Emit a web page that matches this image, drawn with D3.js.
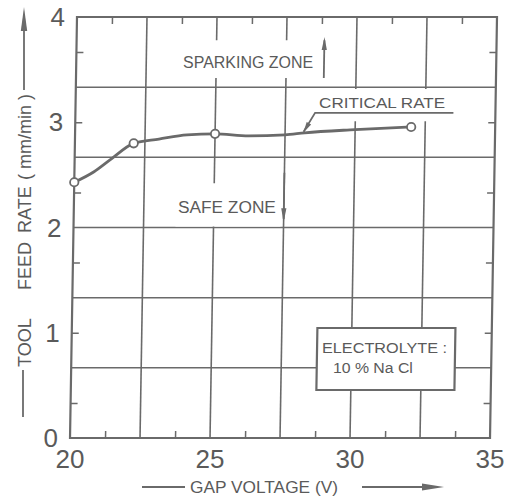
<!DOCTYPE html>
<html>
<head>
<meta charset="utf-8">
<script src="https://cdn.jsdelivr.net/npm/d3@7"></script>
<style>
  body { margin: 0; background: #fff; }
  svg { display: block; }
  text { font-family: "Liberation Sans", Arial, sans-serif; fill: #5a5a5a; }
</style>
</head>
<body>
<div id="chart"></div>
<script>
// measured points (open circles)
const voltage = [20, 22.1, 25, 32];
const feedRate = [2.43, 2.8, 2.89, 2.955];

// hand drawn critical-rate curve
const curveVoltage = [20, 20.7, 21.3, 22.1, 23, 24, 25, 26.2, 27.5, 28.2, 30, 32];
const curveRate = [2.43, 2.53, 2.65, 2.8, 2.84, 2.88, 2.89, 2.87, 2.88, 2.9, 2.93, 2.955];

const xTickLabels = [20, 25, 30, 35];
const yTickLabels = [0, 1, 2, 3, 4];
const xGrid = [22.5, 25, 27.5, 30, 32.5];
const yGrid = [0.667, 1.333, 2, 2.667, 3.333];
const xMinorTicks = [21.25, 23.75, 26.25, 28.75, 31.25, 33.75];
const yMinorTicks = [0.333, 1, 1.667, 2.333, 3, 3.667];

const width = 505, height = 498;
const margin = { top: 17, left: 77 };
const innerWidth = 420, innerHeight = 421;
const ink = "#6a6a6a";
const skewDeg = -0.95;
const lean = Math.tan(skewDeg * Math.PI / 180);

const xScale = d3.scaleLinear().domain([20, 35]).range([0, innerWidth]);
const yScale = d3.scaleLinear().domain([0, 4]).range([innerHeight, 0]);

const svg = d3.select("#chart")
  .append("svg")
    .attr("width", width)
    .attr("height", height);

// the scanned figure leans a little, so the plot frame is skewed
const innerChart = svg
  .append("g")
    .attr("transform", `translate(${margin.left}, ${margin.top}) skewX(${skewDeg})`);

// texts stay unskewed, only shifted with the lean
const textLayer = svg
  .append("g")
    .attr("transform", `translate(${margin.left}, ${margin.top})`);
const px = (vx, vy) => xScale(vx) + lean * yScale(vy);

// grid
innerChart.append("g")
  .selectAll("line")
  .data(xGrid)
  .join("line")
    .attr("x1", d => xScale(d)).attr("x2", d => xScale(d))
    .attr("y1", 0).attr("y2", innerHeight)
    .attr("stroke", ink).attr("stroke-width", 1.6);
innerChart.append("g")
  .selectAll("line")
  .data(yGrid)
  .join("line")
    .attr("x1", 0).attr("x2", innerWidth)
    .attr("y1", d => yScale(d)).attr("y2", d => yScale(d))
    .attr("stroke", ink).attr("stroke-width", 1.6);

// small inward ticks on all four sides
const minorAxes = [
  { axis: d3.axisTop(xScale).tickValues(xMinorTicks), t: "translate(0,0)" },
  { axis: d3.axisBottom(xScale).tickValues(xMinorTicks), t: `translate(0,${innerHeight})` },
  { axis: d3.axisLeft(yScale).tickValues(yMinorTicks), t: "translate(0,0)" },
  { axis: d3.axisRight(yScale).tickValues(yMinorTicks), t: `translate(${innerWidth},0)` }
];
minorAxes.forEach(m => {
  const g = innerChart.append("g")
      .attr("transform", m.t)
      .call(m.axis.tickSize(-7).tickFormat(""));
  g.select(".domain").remove();
  g.selectAll("text").remove();
  g.selectAll("line").attr("stroke", ink).attr("stroke-width", 1.5);
});

// tick labels
textLayer.append("g")
  .selectAll("text")
  .data(xTickLabels)
  .join("text")
    .attr("x", d => px(d, 0))
    .attr("y", innerHeight + 30)
    .attr("text-anchor", "middle")
    .style("font-size", "26px")
    .text(d => d);
textLayer.append("g")
  .selectAll("text")
  .data(yTickLabels)
  .join("text")
    .attr("x", d => px(20, d) - 12)
    .attr("y", d => yScale(d))
    .attr("dy", "0.35em")
    .attr("text-anchor", "end")
    .style("font-size", "26px")
    .text(d => d);

// white label boxes cut the grid
const boxes = [
  [23.63, 28.63, 3.78, 3.42],
  [23.64, 27.39, 2.42, 2.01],
  [28.45, 33.63, 3.316, 3.01]
];
innerChart.append("g")
  .selectAll("rect")
  .data(boxes)
  .join("rect")
    .attr("x", d => xScale(d[0]))
    .attr("y", d => yScale(d[2]))
    .attr("width", d => xScale(d[1]) - xScale(d[0]))
    .attr("height", d => yScale(d[3]) - yScale(d[2]))
    .attr("fill", "#fff");

// electrolyte box
innerChart.append("rect")
    .attr("x", xScale(28.77))
    .attr("y", yScale(1.045))
    .attr("width", xScale(33.7) - xScale(28.77))
    .attr("height", yScale(0.456) - yScale(1.045))
    .attr("fill", "#fff")
    .attr("stroke", ink)
    .attr("stroke-width", 2.2);

// frame
innerChart.append("rect")
    .attr("width", innerWidth)
    .attr("height", innerHeight)
    .attr("fill", "none")
    .attr("stroke", ink)
    .attr("stroke-width", 2.2);

// annotations
const label = (txt, vx, vy, len, size) => textLayer.append("text")
    .attr("x", px(vx, vy))
    .attr("y", yScale(vy))
    .attr("textLength", len)
    .attr("lengthAdjust", "spacingAndGlyphs")
    .style("font-size", `${size}px`)
    .text(txt);
label("SPARKING ZONE", 23.82, 3.52, 130, 16);
label("SAFE ZONE", 23.72, 2.14, 98, 16);
label("CRITICAL RATE", 28.7, 3.135, 126, 15.5);
label("ELECTROLYTE :", 28.95, 0.808, 125, 15.5);
label("10 % Na Cl", 29.35, 0.618, 80, 15.5);

const arrowHead = (x0, y0, x1, y1, len, half) => {
  const dx = x1 - x0, dy = y1 - y0;
  const d = Math.hypot(dx, dy), ux = dx / d, uy = dy / d;
  const bx = x1 - ux * len, by = y1 - uy * len;
  return `M${x1},${y1}L${bx - uy * half},${by + ux * half}L${bx + uy * half},${by - ux * half}Z`;
};

const arrows = innerChart.append("g");
// sparking zone (up)
arrows.append("line")
    .attr("x1", xScale(28.85)).attr("x2", xScale(28.85))
    .attr("y1", yScale(3.42)).attr("y2", yScale(3.78))
    .attr("stroke", ink).attr("stroke-width", 1.8);
arrows.append("path")
    .attr("d", arrowHead(xScale(28.85), yScale(3.42), xScale(28.85), yScale(3.81), 13, 2.6))
    .attr("fill", ink);
// safe zone (down)
arrows.append("line")
    .attr("x1", xScale(27.5)).attr("x2", xScale(27.5))
    .attr("y1", yScale(2.52)).attr("y2", yScale(2.08))
    .attr("stroke", ink).attr("stroke-width", 1.8);
arrows.append("path")
    .attr("d", arrowHead(xScale(27.5), yScale(2.52), xScale(27.5), yScale(2.05), 14, 2.6))
    .attr("fill", ink);
// critical rate leader
arrows.append("path")
    .attr("d", d3.line()([
      [xScale(33.5), yScale(3.09)],
      [xScale(28.56), yScale(3.09)],
      [xScale(28.16), yScale(2.91)]
    ]))
    .attr("fill", "none").attr("stroke", ink).attr("stroke-width", 1.8);
arrows.append("path")
    .attr("d", arrowHead(xScale(28.56), yScale(3.09), xScale(28.15), yScale(2.9), 11, 2.6))
    .attr("fill", ink);

// curve and points
const curvePoints = curveVoltage.map((v, i) => [v, curveRate[i]]);
const line = d3.line()
  .x(d => xScale(d[0]))
  .y(d => yScale(d[1]))
  .curve(d3.curveMonotoneX);
innerChart.append("path")
    .datum(curvePoints)
    .attr("d", line)
    .attr("fill", "none")
    .attr("stroke", ink)
    .attr("stroke-width", 2.8);

innerChart.append("g")
  .selectAll("circle")
  .data(voltage.map((v, i) => [v, feedRate[i]]))
  .join("circle")
    .attr("cx", d => xScale(d[0]))
    .attr("cy", d => yScale(d[1]))
    .attr("r", 4.2)
    .attr("fill", "#fff")
    .attr("stroke", ink)
    .attr("stroke-width", 1.8);

// x axis title
const xTitle = svg.append("g");
xTitle.append("line")
    .attr("x1", 142).attr("x2", 185).attr("y1", 487).attr("y2", 487)
    .attr("stroke", ink).attr("stroke-width", 1.8);
xTitle.append("text")
    .attr("x", 190).attr("y", 493)
    .attr("textLength", 148)
    .attr("lengthAdjust", "spacingAndGlyphs")
    .style("font-size", "16.5px")
    .text("GAP VOLTAGE (V)");
xTitle.append("line")
    .attr("x1", 362).attr("x2", 425).attr("y1", 487).attr("y2", 487)
    .attr("stroke", ink).attr("stroke-width", 1.8);
xTitle.append("path")
    .attr("d", arrowHead(420, 487, 444, 487, 22, 3.5))
    .attr("fill", ink);

// y axis title
const yTitle = svg.append("g");
yTitle.append("line")
    .attr("x1", 23).attr("x2", 23).attr("y1", 417).attr("y2", 370)
    .attr("stroke", ink).attr("stroke-width", 1.8);
const yText = yTitle.append("text")
    .attr("transform", "translate(31,0) rotate(-90)")
    .style("font-size", "18px");
[["TOOL", 367], ["FEED", 290], ["RATE", 233], ["( mm/min )", 180]].forEach(([w, pos]) => {
  yText.append("tspan").attr("x", -pos).text(w);
});
yTitle.append("line")
    .attr("x1", 24).attr("x2", 24).attr("y1", 90).attr("y2", 30)
    .attr("stroke", ink).attr("stroke-width", 1.8);
yTitle.append("path")
    .attr("d", arrowHead(24, 60, 24, 7, 24, 3.2))
    .attr("fill", ink);
</script>
</body>
</html>
